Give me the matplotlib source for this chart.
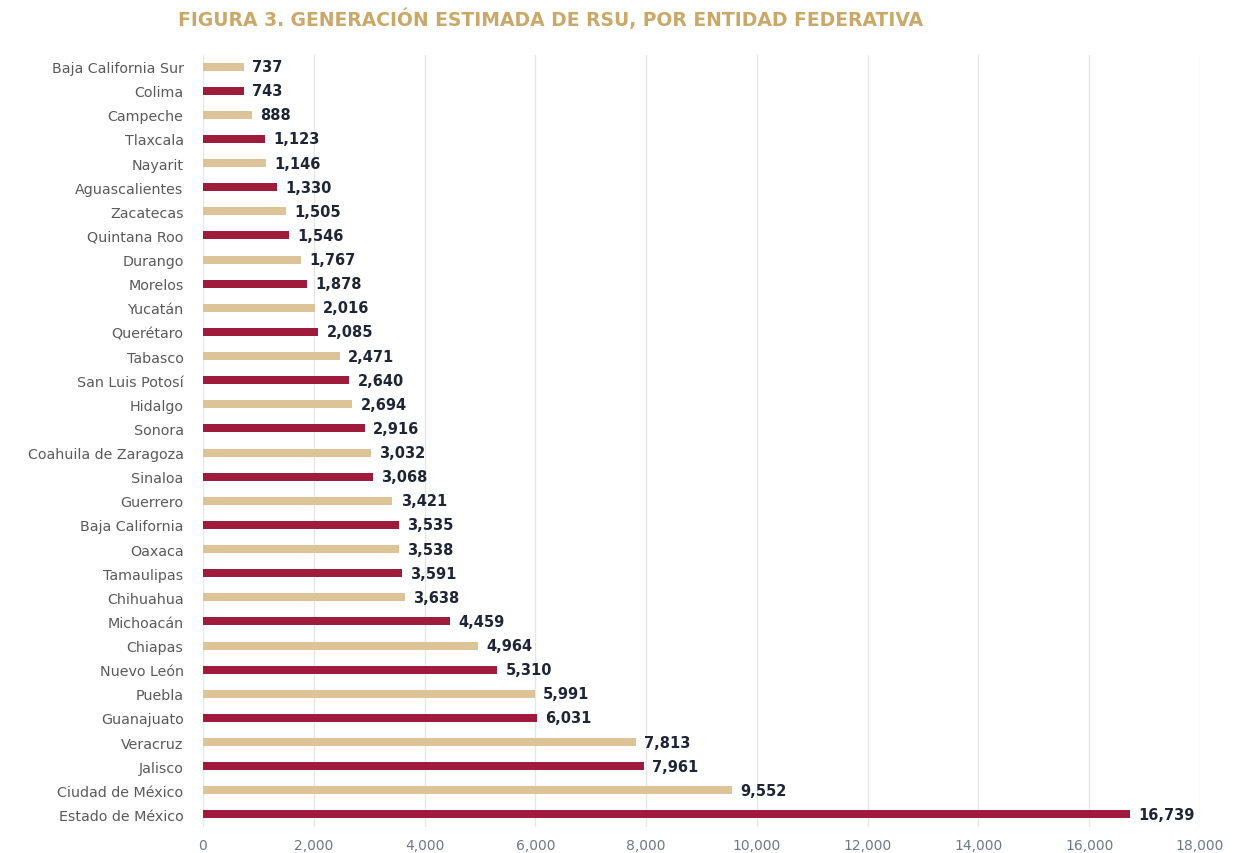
import numpy as np
import matplotlib.pyplot as plt

# ----------------------------
# Data (top to bottom as in the figure)
# ----------------------------
states = [
    "Baja California Sur", "Colima", "Campeche", "Tlaxcala", "Nayarit",
    "Aguascalientes", "Zacatecas", "Quintana Roo", "Durango", "Morelos",
    "Yucatán", "Querétaro", "Tabasco", "San Luis Potosí", "Hidalgo",
    "Sonora", "Coahuila de Zaragoza", "Sinaloa", "Guerrero", "Baja California",
    "Oaxaca", "Tamaulipas", "Chihuahua", "Michoacán", "Chiapas",
    "Nuevo León", "Puebla", "Guanajuato", "Veracruz", "Jalisco",
    "Ciudad de México", "Estado de México",
]
values = [
    737, 743, 888, 1123, 1146,
    1330, 1505, 1546, 1767, 1878,
    2016, 2085, 2471, 2640, 2694,
    2916, 3032, 3068, 3421, 3535,
    3538, 3591, 3638, 4459, 4964,
    5310, 5991, 6031, 7813, 7961,
    9552, 16739,
]
x_ticks = [0, 2000, 4000, 6000, 8000, 10000, 12000, 14000, 16000, 18000]

TAN = "#dcc498"
CRIMSON = "#9e1b3c"
TITLE_COLOR = "#c9a868"

plt.rcParams["font.family"] = ["DejaVu Sans"]

fig = plt.figure(figsize=(12.34, 8.54), dpi=100)
ax = fig.add_axes([0.1645, 0.031, 0.808, 0.904])

y = np.arange(len(states))
colors = [TAN if i % 2 == 0 else CRIMSON for i in range(len(states))]
ax.barh(y, values, height=0.33, color=colors, zorder=3)

for yi, v in zip(y, values):
    ax.text(v + 150, yi, f"{v:,}", va="center", ha="left",
            fontsize=10.5, fontweight="bold", color="#1e2535", zorder=4)

ax.set_yticks(y)
ax.set_yticklabels(states, fontsize=10.3, color="#5a5a5a")
ax.set_ylim(len(states) - 0.5, -0.5)

ax.set_xlim(0, 18000)
ax.set_xticks(x_ticks)
ax.set_xticklabels([f"{t:,}" for t in x_ticks], fontsize=10, color="#6a7a8a")
ax.xaxis.grid(True, color="#e6e6e6", linewidth=1, zorder=0)

ax.tick_params(axis="y", length=0, pad=14)
ax.tick_params(axis="x", length=0, pad=8)
for s in ax.spines.values():
    s.set_visible(False)

fig.text(0.446, 0.977, "FIGURA 3. GENERACIÓN ESTIMADA DE RSU, POR ENTIDAD FEDERATIVA",
         ha="center", va="center", fontsize=13.5, fontweight="bold", color=TITLE_COLOR)

fig.savefig("out.png", dpi=100)
